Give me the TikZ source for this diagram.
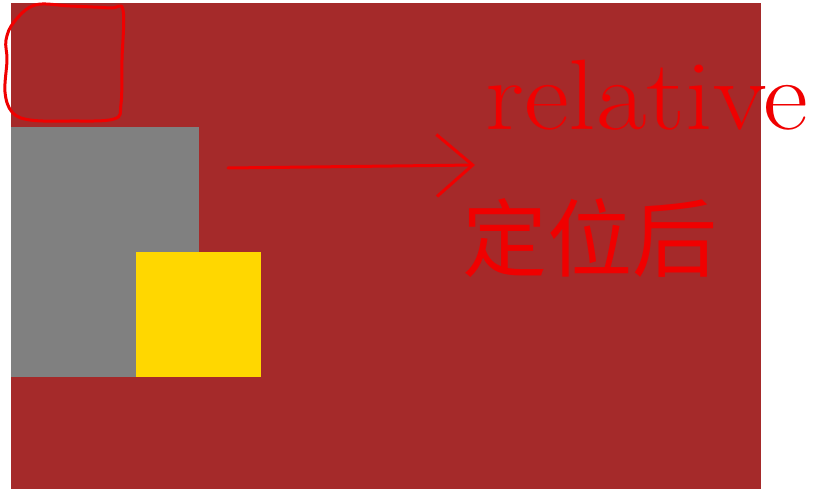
\documentclass[tikz,border=0pt]{standalone}
\usepackage{fontspec}
\usepackage{graphicx}
\newfontfamily\cjk{Noto Sans CJK SC}
\usetikzlibrary{arrows.meta}

\definecolor{bgbrown}{HTML}{A52A2A}
\definecolor{boxgray}{HTML}{808080}
\definecolor{boxgold}{HTML}{FFD700}
\definecolor{ink}{HTML}{F00000}

\tikzstyle{block} = [inner sep=0, outer sep=0, anchor=north west]
\tikzstyle{pen} = [draw=ink, line width=3pt, line cap=round, line join=round]
\tikzstyle{scrawl} = [text=ink, inner sep=0, anchor=north west]

\begin{document}
\begin{tikzpicture}[x=1pt,y=-1pt]
  \useasboundingbox (0,0) rectangle (813,489);

%Nodes
	\node[block, fill=bgbrown, minimum width=750pt, minimum height=486pt] (page) at (11,3) {};
	\node[block, fill=boxgray, minimum width=188pt, minimum height=250pt] (grey) at (11,127) {};
	\node[block, fill=boxgold, minimum width=125pt, minimum height=125pt] (gold) at (136,252) {};

	\node[scrawl, font=\fontsize{100}{100}\selectfont] (rel) at (485,60) {\scalebox{1.1}[1]{relative}};
	\node[scrawl, font=\cjk\fontsize{85}{85}\selectfont] (after) at (462,198) {定位后};

	\coordinate (tail) at (228,168);
	\coordinate (head) at (475,165);

%Connection
	\draw[pen, -{Straight Barb[length=36pt, width=62pt, line width=3pt]}] (tail) -- (head);

	% hand drawn frame
	\draw[pen] plot[smooth cycle, tension=0.6] coordinates {
	  (14,22) (35,5) (70,6) (110,8) (123,10) (122,60) (121,104)
	  (114,119) (70,121) (30,120) (12,112) (5,92) (7,60) (6,40)};

\end{tikzpicture}
\end{document}
